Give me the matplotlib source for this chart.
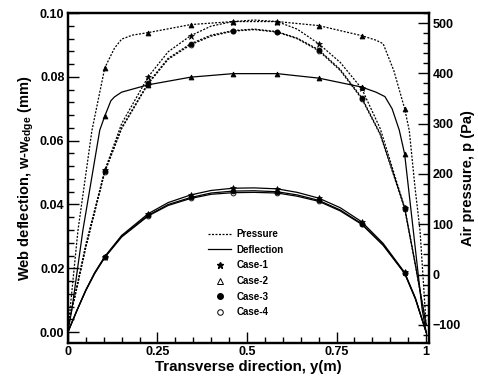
import matplotlib
matplotlib.use("Agg")
import matplotlib.pyplot as plt
from matplotlib.lines import Line2D
from matplotlib.ticker import MultipleLocator

plt.rcParams["font.family"] = ["Liberation Sans", "DejaVu Sans"]
plt.rcParams["font.weight"] = "bold"
plt.rcParams["axes.labelweight"] = "bold"
plt.rcParams["mathtext.fontset"] = "custom"
plt.rcParams["mathtext.rm"] = "Liberation Sans"
plt.rcParams["mathtext.bf"] = "Liberation Sans:bold"

# stations where the case markers sit
mark_pos = [0.103, 0.224, 0.343, 0.461, 0.584, 0.70, 0.82, 0.94]

# air pressure (Pa), cases 1, 3, 4
y_p = [0, 0.02, 0.05, 0.103, 0.15, 0.224, 0.28, 0.343, 0.40, 0.461, 0.52,
       0.584, 0.64, 0.70, 0.76, 0.82, 0.872, 0.94, 0.97, 1.0]
p_case1 = [-100, -40, 60, 207, 300, 393, 443, 475, 494, 503, 506,
           503, 488, 459, 422, 370, 290, 133, 20, -100]
p_case3 = [-100, -42, 55, 205, 292, 381, 430, 459, 476, 485, 488,
           483, 470, 447, 408, 352, 280, 133, 20, -100]
p_case4 = [-100, -43, 54, 204, 290, 379, 428, 457, 474, 484, 487,
           482, 469, 445, 406, 350, 278, 131, 18, -100]

# air pressure (Pa), case 2
y_p2 = [0, 0.006, 0.028, 0.067, 0.103, 0.13, 0.15, 0.18, 0.224, 0.343, 0.461,
        0.584, 0.70, 0.82, 0.86, 0.88, 0.91, 0.94, 0.953, 0.969, 0.983, 1.0]
p_case2 = [-100, -70, 87, 286, 411, 450, 468, 476, 481, 497, 503,
           503, 495, 475, 466, 459, 405, 330, 286, 173, 87, -100]

# web deflection (mm), cases 1, 3, 4
y_w = [0, 0.025, 0.05, 0.075, 0.103, 0.15, 0.224, 0.28, 0.343, 0.40, 0.461,
       0.52, 0.584, 0.64, 0.70, 0.76, 0.82, 0.88, 0.94, 0.97, 1.0]
w_case1 = [0, 0.0068, 0.0132, 0.0187, 0.0237, 0.0303, 0.0371, 0.0406, 0.0430,
           0.0444, 0.0451, 0.0452, 0.0449, 0.0438, 0.0420, 0.0390, 0.0346,
           0.0278, 0.0187, 0.0107, 0]
w_case3 = [0, 0.0067, 0.0131, 0.0185, 0.0235, 0.0300, 0.0366, 0.0400, 0.0422,
           0.0436, 0.0442, 0.0443, 0.0440, 0.0430, 0.0413, 0.0383, 0.0340,
           0.0274, 0.0185, 0.0105, 0]
w_case4 = [0, 0.0067, 0.0130, 0.0184, 0.0234, 0.0298, 0.0364, 0.0397, 0.0419,
           0.0432, 0.0437, 0.0438, 0.0436, 0.0426, 0.0410, 0.0380, 0.0338,
           0.0272, 0.0184, 0.0104, 0]

# web deflection (mm), case 2
y_w2 = [0, 0.011, 0.042, 0.089, 0.103, 0.12, 0.13, 0.15, 0.224, 0.343, 0.461,
        0.584, 0.70, 0.82, 0.86, 0.885, 0.905, 0.925, 0.94, 0.964, 0.989, 1.0]
w_case2 = [0, 0.007, 0.032, 0.0633, 0.0677, 0.0725, 0.0737, 0.0752, 0.0775,
           0.0799, 0.081, 0.081, 0.0796, 0.0768, 0.0752, 0.0738, 0.0700,
           0.0633, 0.0558, 0.032, 0.007, 0]

markers = {
    "Case-1": dict(marker="*", ms=4.5, mfc="k", mec="k", mew=0.5),
    "Case-2": dict(marker="^", ms=3.5, mfc="k", mec="k", mew=0.6),
    "Case-3": dict(marker="o", ms=3.5, mfc="k", mec="k", mew=0.6),
    "Case-4": dict(marker="o", ms=3.5, mfc="none", mec="k", mew=0.6),
}
dotted = (0, (1.6, 1.2))


def marks(xs):
    return [i for i, v in enumerate(xs) if v in mark_pos]


fig = plt.figure(figsize=(4.78, 3.78), dpi=100)
ax = fig.add_axes([0.142, 0.0926, 0.7555, 0.873])
ax2 = ax.twinx()

for ys, ws, case in [(y_w, w_case1, "Case-1"), (y_w, w_case3, "Case-3"),
                     (y_w, w_case4, "Case-4"), (y_w2, w_case2, "Case-2")]:
    ax.plot(ys, ws, color="k", lw=0.9, markevery=marks(ys), **markers[case])

for ys, ps, case in [(y_p, p_case1, "Case-1"), (y_p, p_case3, "Case-3"),
                     (y_p, p_case4, "Case-4"), (y_p2, p_case2, "Case-2")]:
    ax2.plot(ys, ps, color="k", lw=0.9, ls=dotted, markevery=marks(ys),
             **markers[case])

ax.set_xlim(0, 1.008)
ax.set_ylim(-0.0034, 0.100)
ax2.set_ylim(-136, 520)

ax.xaxis.set_minor_locator(MultipleLocator(0.05))
ax.yaxis.set_major_locator(MultipleLocator(0.02))
ax.yaxis.set_minor_locator(MultipleLocator(0.004))
ax2.yaxis.set_major_locator(MultipleLocator(100))
ax2.yaxis.set_minor_locator(MultipleLocator(20))
ax.set_xticks([0, 0.25, 0.5, 0.75, 1.0])
ax.set_xticklabels(["0", "0.25", "0.5", "0.75", "1"])

for a in (ax, ax2):
    a.tick_params(which="both", direction="in", labelsize=9, width=1.0)
    a.tick_params(which="major", length=8, pad=2.5)
    a.tick_params(which="minor", length=4)
    for s in a.spines.values():
        s.set_linewidth(1.6)
ax.tick_params(top=False, right=False, which="both")
ax.yaxis.set_major_formatter(plt.FormatStrFormatter("%.2f"))

ax.set_xlabel("Transverse direction, y(m)", fontsize=10.8, labelpad=1)
ax.set_ylabel(r"Web deflection, w-w$_{\mathbf{edge}}$ (mm)", fontsize=10.5,
              labelpad=3)
ax2.set_ylabel("Air pressure, p (Pa)", fontsize=10.5, labelpad=0)

handles = [
    Line2D([], [], color="k", lw=0.9, ls=dotted),
    Line2D([], [], color="k", lw=0.9),
    Line2D([], [], ls="none", marker="*", ms=4.5, mfc="k", mec="k"),
    Line2D([], [], ls="none", marker="^", ms=4.5, mfc="none", mec="k", mew=0.7),
    Line2D([], [], ls="none", marker="o", ms=4, mfc="k", mec="k"),
    Line2D([], [], ls="none", marker="o", ms=4, mfc="none", mec="k", mew=0.7),
]
labels = ["Pressure", "Deflection", "Case-1", "Case-2", "Case-3", "Case-4"]
leg = ax.legend(handles, labels, loc="upper left",
                bbox_to_anchor=(208 / 478, 1 - 229 / 378),
                bbox_transform=fig.transFigure, frameon=False,
                prop={"size": 7, "weight": "bold"}, handlelength=2.4,
                handletextpad=0.5, labelspacing=0.58, borderpad=0,
                borderaxespad=0)

fig.savefig("out.png", dpi=100)
